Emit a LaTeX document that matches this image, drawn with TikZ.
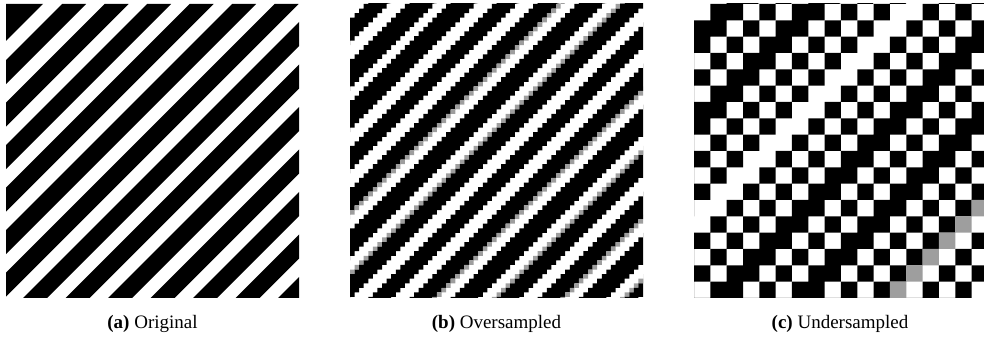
\documentclass[tikz,border=0pt]{standalone}
\usepackage{fontspec}
\setmainfont{Liberation Serif}
% staircase band of grid diagonals s1..s2 (cells with s1 <= i+j <= s2)
% #1 style, #2 x0, #3 y0, #4 cell, #5 N, #6 s1, #7 s2
\newcommand\myband[7]{%
  \fill[#1] ({#2+(#6-#5-1)*#4},{#3+(#5+1)*#4})
    \foreach \q in {0,...,#5}{ -- ++(#4,0) -- ++(0,-#4) } -- ++(#4,0) -- ++(0,-#4)
    -- ({#2+(#7+2)*#4},{#3})
    \foreach \q in {0,...,#5}{ -- ++(-#4,0) -- ++(0,#4) } -- ++(-#4,0) -- ++(0,#4)
    -- cycle;}
\begin{document}
\begin{tikzpicture}[x=1pt,y=-1pt,
  captext/.style={font=\fontsize{19}{22}\selectfont, inner sep=0pt, anchor=base},
  greycell/.style={black!38}]
\useasboundingbox (0,0) rectangle (984,345);
% ---------- (a) original: continuous stripes ----------
\begin{scope}
\clip (6,4) rectangle (299,297);
\fill (6,4) -- (43,4) -- (6,41) -- cycle;
\foreach \k in {0,...,13} {
  \pgfmathsetmacro\ua{56+42.5*\k}
  \pgfmathsetmacro\ub{\ua+24}
  \fill (6+\ua,4) -- (6+\ub,4) -- (6+\ub-300,304) -- (6+\ua-300,304) -- cycle;
}
\end{scope}
% ---------- (b) oversampled: 64 x 64 ----------
\begin{scope}
\clip (350,4) rectangle (643,297);
\gdef\rs{-1}
\foreach \s in {0,...,127} {
  \pgfmathsetmacro\tph{mod((\s+1)*4.578-15+425,42.5)}
  \pgfmathtruncatemacro\v{(\s>126) ? 0 : ((min(min(\tph,42.5-\tph),abs(\tph-25.5))<0.55) ? 2 : ((\tph<25.5) ? 1 : 0))}
  \ifnum\v=1
    \ifnum\rs<0 \xdef\rs{\s}\fi
  \else
    \ifnum\rs>-1
      \pgfmathtruncatemacro\se{\s-1}
      \myband{black}{350}{4}{4.578}{64}{\rs}{\se}
      \gdef\rs{-1}
    \fi
    \ifnum\v=2 \myband{greycell}{350}{4}{4.578}{64}{\s}{\s}\fi
  \fi
}
\end{scope}
% ---------- (c) undersampled: 18 x 18 ----------
\begin{scope}
\clip (694,4) rectangle (984,297);
\gdef\rs{-1}
\foreach \s/\v in {0/0,1/1,2/1,3/0,4/1,5/0,6/1,7/1,8/0,9/1,10/0,11/1,12/0,13/0,14/1,15/0,16/1,17/0,
  18/1,19/1,20/0,21/1,22/0,23/1,24/1,25/0,26/1,27/0,28/1,29/2,30/0,31/1,32/0,33/1,34/0,35/0} {
  \ifnum\v=1
    \ifnum\rs<0 \xdef\rs{\s}\fi
  \else
    \ifnum\rs>-1
      \pgfmathtruncatemacro\se{\s-1}
      \myband{black}{694}{4}{16.33}{18}{\rs}{\se}
      \gdef\rs{-1}
    \fi
    \ifnum\v=2 \myband{greycell}{694}{4}{16.33}{18}{\s}{\s}\fi
  \fi
}
\end{scope}
% ---------- captions ----------
\node[captext] (capa) at (152.5,328) {\textbf{(a)} Original};
\node[captext] (capb) at (496.5,328) {\textbf{(b)} Oversampled};
\node[captext] (capc) at (840,328) {\textbf{(c)} Undersampled};
\end{tikzpicture}
\end{document}
